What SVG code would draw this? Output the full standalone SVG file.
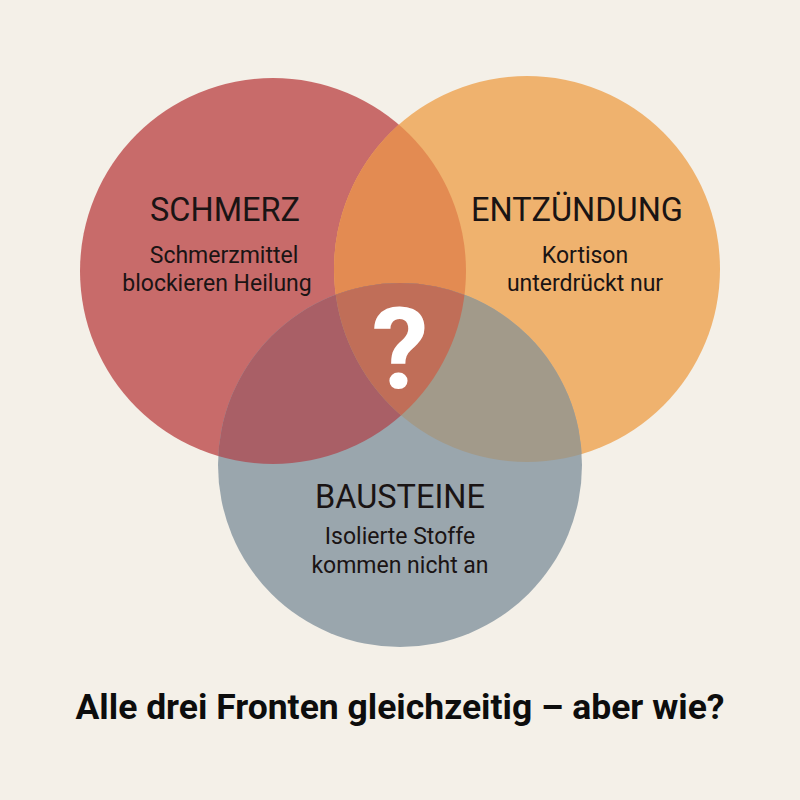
<svg xmlns="http://www.w3.org/2000/svg" width="800" height="800" viewBox="0 0 800 800">
<defs>
<style>
.t{font-family:Roboto,"Liberation Sans",sans-serif;fill:#1a1414;text-anchor:middle}
.h{font-size:32.5px}
.s{font-size:23px}
</style>
<clipPath id="cR"><circle cx="273" cy="271" r="193"/></clipPath>
<clipPath id="cO"><circle cx="527" cy="269" r="193"/></clipPath>
<clipPath id="cB"><circle cx="400" cy="465" r="182"/></clipPath>
</defs>
<rect width="800" height="800" fill="#F4F0E8"/>
<g id="schmerz">
<circle cx="273" cy="271" r="193" fill="#C86B6A"/>
</g>
<g id="entzuendung">
<circle cx="527" cy="269" r="193" fill="#EFB26E"/>
</g>
<g id="bausteine">
<circle cx="400" cy="465" r="182" fill="#9AA6AD"/>
</g>
<g id="overlaps">
<circle cx="527" cy="269" r="193" fill="#E38B52" clip-path="url(#cR)"/>
<circle cx="400" cy="465" r="182" fill="#A95F66" clip-path="url(#cR)"/>
<circle cx="400" cy="465" r="182" fill="#A29A8A" clip-path="url(#cO)"/>
<g clip-path="url(#cR)"><circle cx="400" cy="465" r="182" fill="#C06E58" clip-path="url(#cO)"/></g>
</g>
<g id="labels">
<text class="t h" x="225" y="221">SCHMERZ</text>
<text class="t s" x="224" y="263">Schmerzmittel</text>
<text class="t s" x="217" y="291">blockieren Heilung</text>
<text class="t h" x="577" y="221">ENTZÜNDUNG</text>
<text class="t s" x="585" y="263">Kortison</text>
<text class="t s" x="585" y="291">unterdrückt nur</text>
<text class="t h" x="400" y="508">BAUSTEINE</text>
<text class="t s" x="400" y="544">Isolierte Stoffe</text>
<text class="t s" x="400" y="573">kommen nicht an</text>
<text x="400" y="388" style="font-family:Roboto,'Liberation Sans',sans-serif;font-weight:bold;font-size:114px;fill:#ffffff;text-anchor:middle">?</text>
<text x="400" y="719" style="font-family:Roboto,'Liberation Sans',sans-serif;font-weight:bold;font-size:35.5px;fill:#0d0d0d;text-anchor:middle">Alle drei Fronten gleichzeitig – aber wie?</text>
</g>
</svg>
